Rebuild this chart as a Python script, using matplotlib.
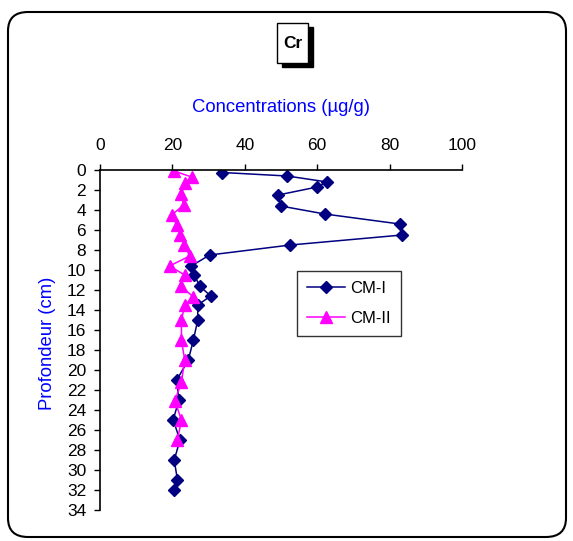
import matplotlib.pyplot as plt
from matplotlib.patches import FancyBboxPatch, Rectangle

# --- data ---
depth_cm1 = [0.25, 0.6, 1.2, 1.7, 2.5, 3.6, 4.4, 5.4, 6.5, 7.5, 8.5, 9.6, 10.5,
             11.6, 12.6, 13.5, 15, 17, 19, 21, 23, 25, 27, 29, 31, 32]
conc_cm1 = [33.8, 51.7, 62.8, 60.0, 49.2, 49.9, 62.1, 82.8, 83.5, 52.6, 30.3, 25.2, 26.1,
            27.5, 30.6, 27.0, 27.0, 25.8, 24.4, 21.2, 21.8, 20.2, 22.1, 20.5, 21.4, 20.5]

depth_cm2 = [0.1, 0.7, 1.3, 2.4, 3.5, 4.5, 5.5, 6.5, 7.5, 8.6, 9.6, 10.5,
             11.6, 12.7, 13.5, 15, 17, 19, 21.2, 23.1, 25, 27]
conc_cm2 = [20.5, 25.3, 23.5, 22.5, 23.1, 19.8, 21.2, 22.2, 23.3, 24.8, 19.2, 23.4,
            22.3, 25.8, 23.4, 22.5, 22.5, 23.4, 22.5, 20.7, 22.5, 21.4]

x_ticks = [0, 20, 40, 60, 80, 100]
y_ticks = list(range(0, 35, 2))

NAVY = '#000080'
MAGENTA = '#FF00FF'
BLUE = '#0000FF'

plt.rcParams['font.family'] = ['Liberation Sans', 'DejaVu Sans']

fig = plt.figure(figsize=(5.73, 5.41), dpi=100)

# rounded outer frame
fig.patches.append(FancyBboxPatch((8 / 573, 4 / 541), 558 / 573, 525 / 541,
                                  boxstyle='round,pad=0,rounding_size=0.035',
                                  transform=fig.transFigure, fill=False,
                                  edgecolor='black', linewidth=1.5))

# title box with shadow
fig.patches.append(Rectangle((282 / 573, 1 - 67 / 541), 31 / 573, 40 / 541,
                             transform=fig.transFigure, facecolor='black',
                             edgecolor='black', zorder=1))
fig.patches.append(Rectangle((277 / 573, 1 - 63 / 541), 31 / 573, 40 / 541,
                             transform=fig.transFigure, facecolor='white',
                             edgecolor='black', linewidth=1, zorder=2))
fig.text(292.5 / 573, 1 - 43 / 541, 'Cr', ha='center', va='center',
         fontsize=12.5, fontweight='bold', zorder=3)

ax = fig.add_axes([100 / 573, 1 - 510 / 541, 362 / 573, 340 / 541])
ax.plot(conc_cm1, depth_cm1, color=NAVY, marker='D', markersize=6,
        linewidth=1.1, label='CM-I')
ax.plot(conc_cm2, depth_cm2, color=MAGENTA, marker='^', markersize=8,
        linewidth=1.1, label='CM-II')

ax.set_xlim(0, 100)
ax.set_ylim(34, 0)
ax.set_xticks(x_ticks)
ax.set_yticks(y_ticks)
ax.xaxis.tick_top()
ax.xaxis.set_label_position('top')
ax.tick_params(axis='both', labelsize=12.5, length=4, width=1, direction='out')
ax.tick_params(axis='x', pad=8)
ax.tick_params(axis='y', pad=6)
ax.spines['right'].set_visible(False)
ax.spines['bottom'].set_visible(False)
for s in ['left', 'top']:
    ax.spines[s].set_linewidth(1.2)

ax.set_xlabel('Concentrations (µg/g)', color=BLUE, fontsize=13.3, labelpad=19)
ax.set_ylabel('Profondeur (cm)', color=BLUE, fontsize=13.3)
ax.yaxis.set_label_coords(-44 / 362, 0.49)

leg = ax.legend(loc='upper left', bbox_to_anchor=(197 / 362, 1 - 101 / 340),
                frameon=True, fancybox=False, edgecolor='black', fontsize=12,
                handlelength=2.3, handletextpad=0.3, borderpad=0.6,
                labelspacing=0.9, borderaxespad=0)
leg.get_frame().set_linewidth(1)

fig.savefig('out.png', dpi=100)
